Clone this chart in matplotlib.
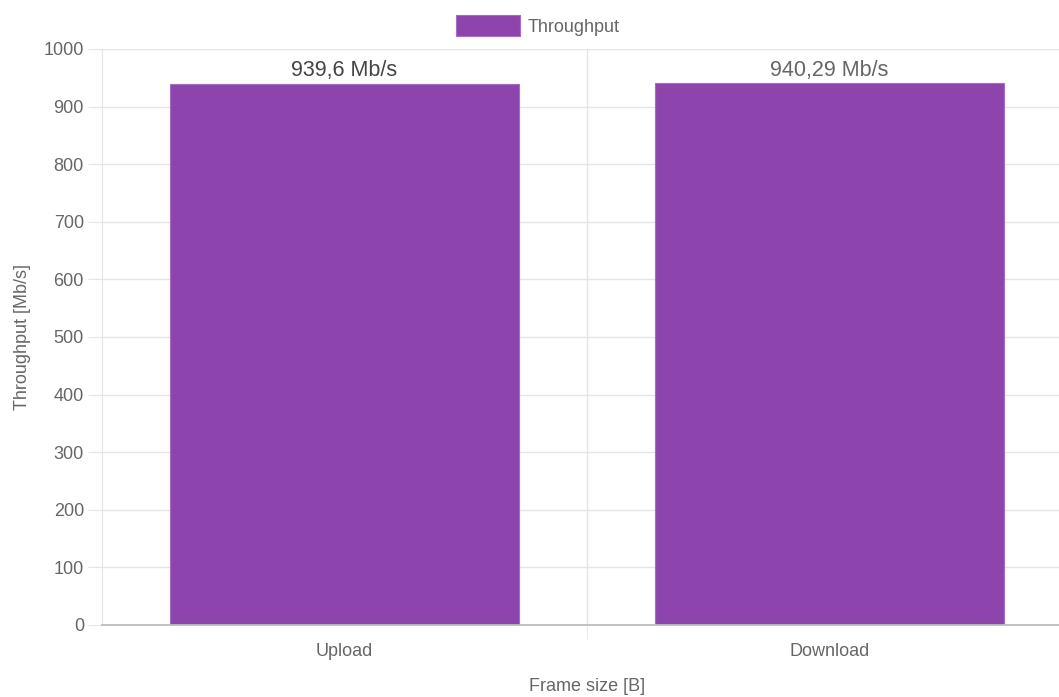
import matplotlib
matplotlib.use('Agg')
import matplotlib.pyplot as plt
from matplotlib.patches import Patch

categories = ['Upload', 'Download']
throughput = [939.6, 940.29]
value_labels = ['939,6 Mb/s', '940,29 Mb/s']
y_ticks = [0, 100, 200, 300, 400, 500, 600, 700, 800, 900, 1000]

bar_colour = '#8e44ad'
text_colour = '#666666'
grid_colour = '#e5e5e5'

plt.rcParams['font.family'] = ['Liberation Sans', 'DejaVu Sans']

fig = plt.figure(figsize=(10.59, 6.97), dpi=100)
# the plot area runs a little past the right edge of the canvas, as in the original
ax = fig.add_axes([0.0963, 0.1033, 0.916, 0.8264])

x = list(range(len(categories)))
ax.bar(x, throughput, width=0.72, color=bar_colour, edgecolor='#a66bc2',
       linewidth=0.8, zorder=3, label='Throughput')

for i, (v, lab) in enumerate(zip(throughput, value_labels)):
    ax.annotate(lab, (x[i], v), xytext=(0, 2), textcoords='offset points',
                ha='center', va='bottom', fontsize=15.5,
                color='#444444' if i == 0 else text_colour, zorder=4)

ax.set_xlim(-0.5, len(categories) - 0.5)
ax.set_ylim(0, 1000)
ax.set_yticks(y_ticks)
ax.set_xticks(x)
ax.set_xticklabels(categories)
ax.set_xticks([i + 0.5 for i in x[:-1]], minor=True)

ax.tick_params(axis='y', length=10, color=grid_colour, labelcolor=text_colour,
               labelsize=13, pad=3)
ax.tick_params(axis='x', which='major', length=0, labelcolor=text_colour,
               labelsize=13, pad=13)
ax.tick_params(axis='x', which='minor', length=10, color=grid_colour)
ax.grid(axis='y', color=grid_colour, linewidth=1, zorder=0)
ax.grid(axis='x', which='minor', color=grid_colour, linewidth=1, zorder=0)

for side in ['top', 'right']:
    ax.spines[side].set_visible(False)
ax.spines['left'].set_color(grid_colour)
ax.spines['bottom'].set_color('#bdbdbd')
ax.spines['bottom'].set_linewidth(1.3)
ax.spines['bottom'].set_zorder(5)

ax.set_ylabel('Throughput [Mb/s]', fontsize=13, color=text_colour, labelpad=9)
ax.set_xlabel('Frame size [B]', fontsize=13, color=text_colour, labelpad=13)

handle = Patch(facecolor=bar_colour, edgecolor='#a66bc2', linewidth=0.8)
fig.legend([handle], ['Throughput'], loc='upper center',
           bbox_to_anchor=(0.508, 1.002), frameon=False, fontsize=13,
           labelcolor=text_colour, handlelength=3.55, handleheight=1.45,
           handletextpad=0.45, borderaxespad=0.5)

fig.savefig('out.png', dpi=100)
